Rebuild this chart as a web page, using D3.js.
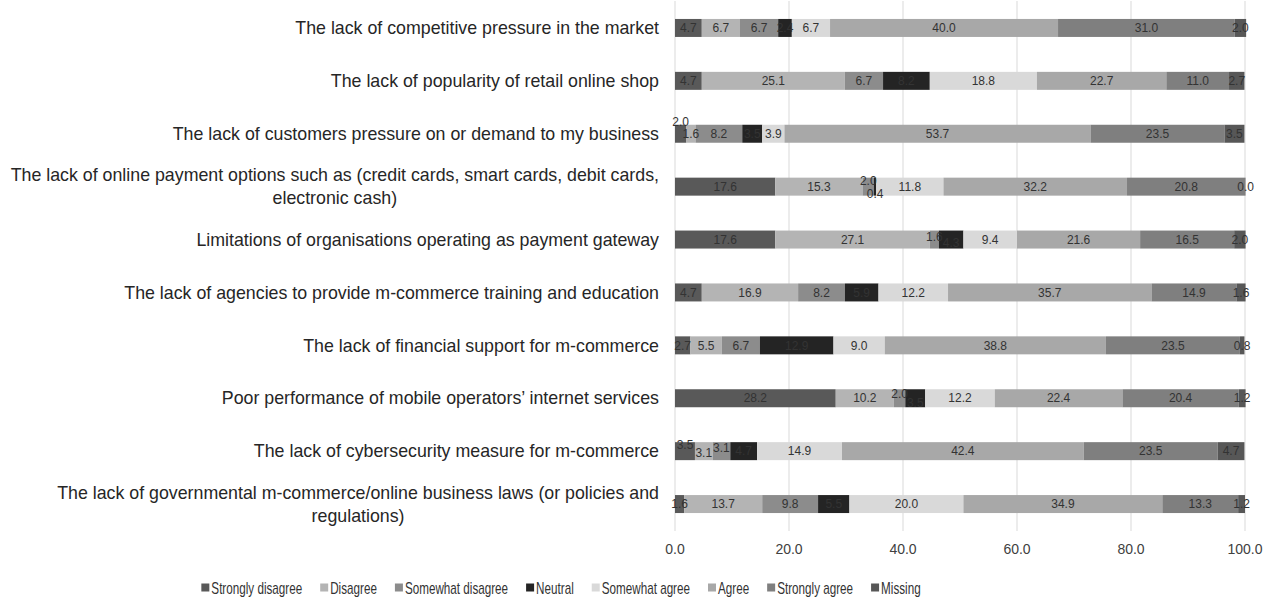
<!DOCTYPE html>
<html>
<head>
<meta charset="utf-8">
<script src="https://cdn.jsdelivr.net/npm/d3@7"></script>
<style>
  body { margin: 0; background: #fff; }
  svg { display: block; }
</style>
</head>
<body>
<div id="chart"></div>
<script>
// categories, top to bottom
const categories = [
  "The lack of competitive pressure in the market",
  "The lack of popularity of retail online shop",
  "The lack of customers pressure on or demand to my business",
  "The lack of online payment options such as (credit cards, smart cards, debit cards,|electronic cash)",
  "Limitations of organisations operating as payment gateway",
  "The lack of agencies to provide m-commerce training and education",
  "The lack of financial support for m-commerce",
  "Poor performance of mobile operators\u2019 internet services",
  "The lack of cybersecurity measure for m-commerce",
  "The lack of governmental m-commerce/online business laws (or policies and|regulations)"
];

const seriesNames = ["Strongly disagree", "Disagree", "Somewhat disagree", "Neutral",
  "Somewhat agree", "Agree", "Strongly agree", "Missing"];

// one array per series, same order as categories
const stronglyDisagree = [4.7, 4.7, 2.0, 17.6, 17.6, 4.7, 2.7, 28.2, 3.5, 1.6];
const disagree         = [6.7, 25.1, 1.6, 15.3, 27.1, 16.9, 5.5, 10.2, 3.1, 13.7];
const somewhatDisagree = [6.7, 6.7, 8.2, 2.0, 1.6, 8.2, 6.7, 2.0, 3.1, 9.8];
const neutral          = [2.4, 8.2, 3.5, 0.4, 4.3, 5.9, 12.9, 3.5, 4.7, 5.5];
const somewhatAgree    = [6.7, 18.8, 3.9, 11.8, 9.4, 12.2, 9.0, 12.2, 14.9, 20.0];
const agree            = [40.0, 22.7, 53.7, 32.2, 21.6, 35.7, 38.8, 22.4, 42.4, 34.9];
const stronglyAgree    = [31.0, 11.0, 23.5, 20.8, 16.5, 14.9, 23.5, 20.4, 23.5, 13.3];
const missing          = [2.0, 2.7, 3.5, 0.0, 2.0, 1.6, 0.8, 1.2, 4.7, 1.2];

const xTicks = [0, 20, 40, 60, 80, 100];

const seriesValues = [stronglyDisagree, disagree, somewhatDisagree, neutral,
  somewhatAgree, agree, stronglyAgree, missing];

const colors = ["#595959", "#b4b4b4", "#8c8c8c", "#242424", "#d9d9d9", "#a8a8a8", "#7f7f7f", "#575757"];

// hand-moved labels where small segments overlap (row,series -> [dx, dy])
const nudge = {
  "2,0": [0, -12], "3,2": [0, -6], "3,3": [0, 7], "4,2": [0, -3], "4,3": [0, 3],
  "7,2": [0, -4], "7,3": [0, 5], "8,0": [0, -6], "8,1": [0, 2], "8,2": [0, -3]
};

const W = 1272, H = 599;
const svg = d3.select("#chart").append("svg").attr("width", W).attr("height", H)
  .style("font-family", "'Liberation Sans', Arial, sans-serif");

const x = d3.scaleLinear().domain([0, 100]).range([675, 1245]);
const y = d3.scaleBand().domain(d3.range(categories.length)).range([1.5, 530.5])
  .paddingInner(0.66).paddingOuter(0.33);

// gridlines
svg.append("g").selectAll("line").data(xTicks).join("line")
  .attr("x1", d => x(d)).attr("x2", d => x(d))
  .attr("y1", 1).attr("y2", 531)
  .attr("stroke", "#d9d9d9").attr("stroke-width", 1);

// stacked table
const rows = categories.map((c, i) => {
  const r = { idx: i };
  seriesNames.forEach((s, j) => r[s] = seriesValues[j][i]);
  return r;
});
const stacked = d3.stack().keys(seriesNames)(rows);

const layers = svg.append("g").selectAll("g").data(stacked).join("g")
  .attr("fill", (d, j) => colors[j]);
layers.selectAll("rect").data(d => d).join("rect")
  .attr("x", d => x(d[0]))
  .attr("width", d => Math.max(0, x(d[1]) - x(d[0])))
  .attr("y", d => y(d.data.idx))
  .attr("height", y.bandwidth());

// data labels
const labelG = svg.append("g").style("font-size", "12px").attr("fill", "#333")
  .attr("text-anchor", "middle");
stacked.forEach((layer, j) => {
  layer.forEach(d => {
    const i = d.data.idx;
    const n = nudge[i + "," + j] || [0, 0];
    labelG.append("text")
      .attr("x", (x(d[0]) + x(d[1])) / 2 + n[0])
      .attr("y", y(i) + y.bandwidth() / 2 + n[1])
      .attr("dy", "0.35em")
      .text(seriesValues[j][i].toFixed(1));
  });
});

// category labels (multi-line centred within a right-aligned block)
const catG = svg.append("g").style("font-size", "17.8px").attr("fill", "#262626");
categories.forEach((c, i) => {
  const lines = c.split("|");
  const cy = y(i) + y.bandwidth() / 2;
  const lh = 23;
  const texts = lines.map((ln, k) => catG.append("text")
    .attr("y", cy + (k - (lines.length - 1) / 2) * lh)
    .attr("dy", "0.35em").text(ln));
  const widths = texts.map(t => t.node().getComputedTextLength());
  const bw = d3.max(widths);
  const right = 659;
  texts.forEach((t, k) => t.attr("x", right - bw + (bw - widths[k]) / 2));
});

// x axis tick labels
svg.append("g").style("font-size", "14px").attr("fill", "#404040").attr("text-anchor", "middle")
  .selectAll("text").data(xTicks).join("text")
  .attr("x", d => x(d)).attr("y", 549).attr("dy", "0.35em")
  .text(d => d.toFixed(1));

// legend (narrow face imitated with a horizontal squeeze)
const squeeze = 0.73;
const legend = svg.append("g").style("font-size", "16px").attr("fill", "#333");
const items = seriesNames.map((s, j) => {
  const g = legend.append("g");
  g.append("rect").attr("width", 8).attr("height", 8).attr("y", -4.5).attr("fill", colors[j]);
  const t = g.append("text").attr("transform", `translate(10,0) scale(${squeeze},1)`)
    .attr("dy", "0.35em").text(s);
  return { g, w: 10 + squeeze * t.node().getComputedTextLength() };
});
const gap = 18;
const total = d3.sum(items, d => d.w) + gap * (items.length - 1);
let lx = 561 - total / 2;
items.forEach(it => {
  it.g.attr("transform", `translate(${lx},588)`);
  lx += it.w + gap;
});
</script>
</body>
</html>
